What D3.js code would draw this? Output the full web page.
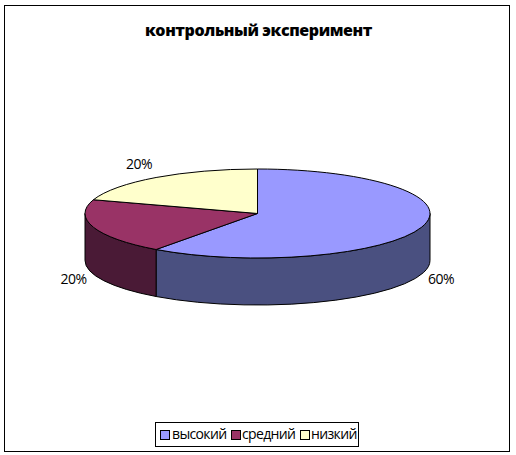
<!DOCTYPE html>
<html><head><meta charset="utf-8">
<script src="https://cdn.jsdelivr.net/npm/d3@7"></script>
<style>html,body{margin:0;padding:0;background:#fff}svg{display:block}text{font-family:"Open Sans","DejaVu Sans",sans-serif;fill:#000}</style>
</head><body><svg id="c" width="516" height="455"></svg>
<script>
const categories = ["высокий", "средний", "низкий"];
const values = [60, 20, 20];
const topColors = ["#9999ff", "#993366", "#ffffcc"];
const sideColors = ["#4a5080", "#4a1a36", "#80805f"];
const titleText = "контрольный эксперимент";

const W = 516, H = 455, cx = 257.5, cy = 213.5, rx = 172.5, ry = 44.5, depth = 47;
const svg = d3.select("#c");
svg.append("rect").attr("x",4.5).attr("y",5.5).attr("width",505).attr("height",446)
  .attr("fill","#fff").attr("stroke","#000");

const pie = d3.pie().sort(null).value(d=>d);
const arcs = pie(values);
const px = a => cx + rx*Math.sin(a), py = (a,dz=0) => cy - ry*Math.cos(a) + dz;

arcs.forEach((d,i)=>{
  const a0 = Math.max(d.startAngle, Math.PI/2), a1 = Math.min(d.endAngle, 3*Math.PI/2);
  if(a1<=a0) return;
  const large = (a1-a0)>Math.PI?1:0;
  const p = `M${px(a0)},${py(a0)}A${rx},${ry} 0 ${large} 1 ${px(a1)},${py(a1)}`+
            `L${px(a1)},${py(a1,depth)}A${rx},${ry} 0 ${large} 0 ${px(a0)},${py(a0,depth)}Z`;
  svg.append("path").attr("d",p).attr("fill",sideColors[i]).attr("stroke","#000").attr("stroke-width",1);
});
arcs.forEach((d,i)=>{
  const a0=d.startAngle,a1=d.endAngle,large=(a1-a0)>Math.PI?1:0;
  const p = `M${cx},${cy}L${px(a0)},${py(a0)}A${rx},${ry} 0 ${large} 1 ${px(a1)},${py(a1)}Z`;
  svg.append("path").attr("d",p).attr("fill",topColors[i]).attr("stroke","#000").attr("stroke-width",1);
});

svg.append("text").attr("x",258.5).attr("y",36).attr("text-anchor","middle")
  .attr("font-size",16).attr("font-weight",800).attr("letter-spacing",-0.4).text(titleText);

const labelPos = [[441,284],[73.5,284],[139,169]];
arcs.forEach((d,i)=>{
  svg.append("text").attr("x",labelPos[i][0]).attr("y",labelPos[i][1]).attr("text-anchor","middle")
    .attr("font-size",14).attr("letter-spacing",-0.5).text(Math.round(d.value)+"%");
});

svg.append("rect").attr("x",155.5).attr("y",422.5).attr("width",203).attr("height",24)
  .attr("fill","#fff").attr("stroke","#000");
const swX=[160,231,300], txX=[172,242,311];
categories.forEach((c,i)=>{
  svg.append("rect").attr("x",swX[i]+.5).attr("y",430.5).attr("width",9).attr("height",9)
    .attr("fill",topColors[i]).attr("stroke","#000");
  svg.append("text").attr("x",txX[i]).attr("y",439).attr("font-size",14).attr("letter-spacing",-0.65).text(c);
});
</script></body></html>
